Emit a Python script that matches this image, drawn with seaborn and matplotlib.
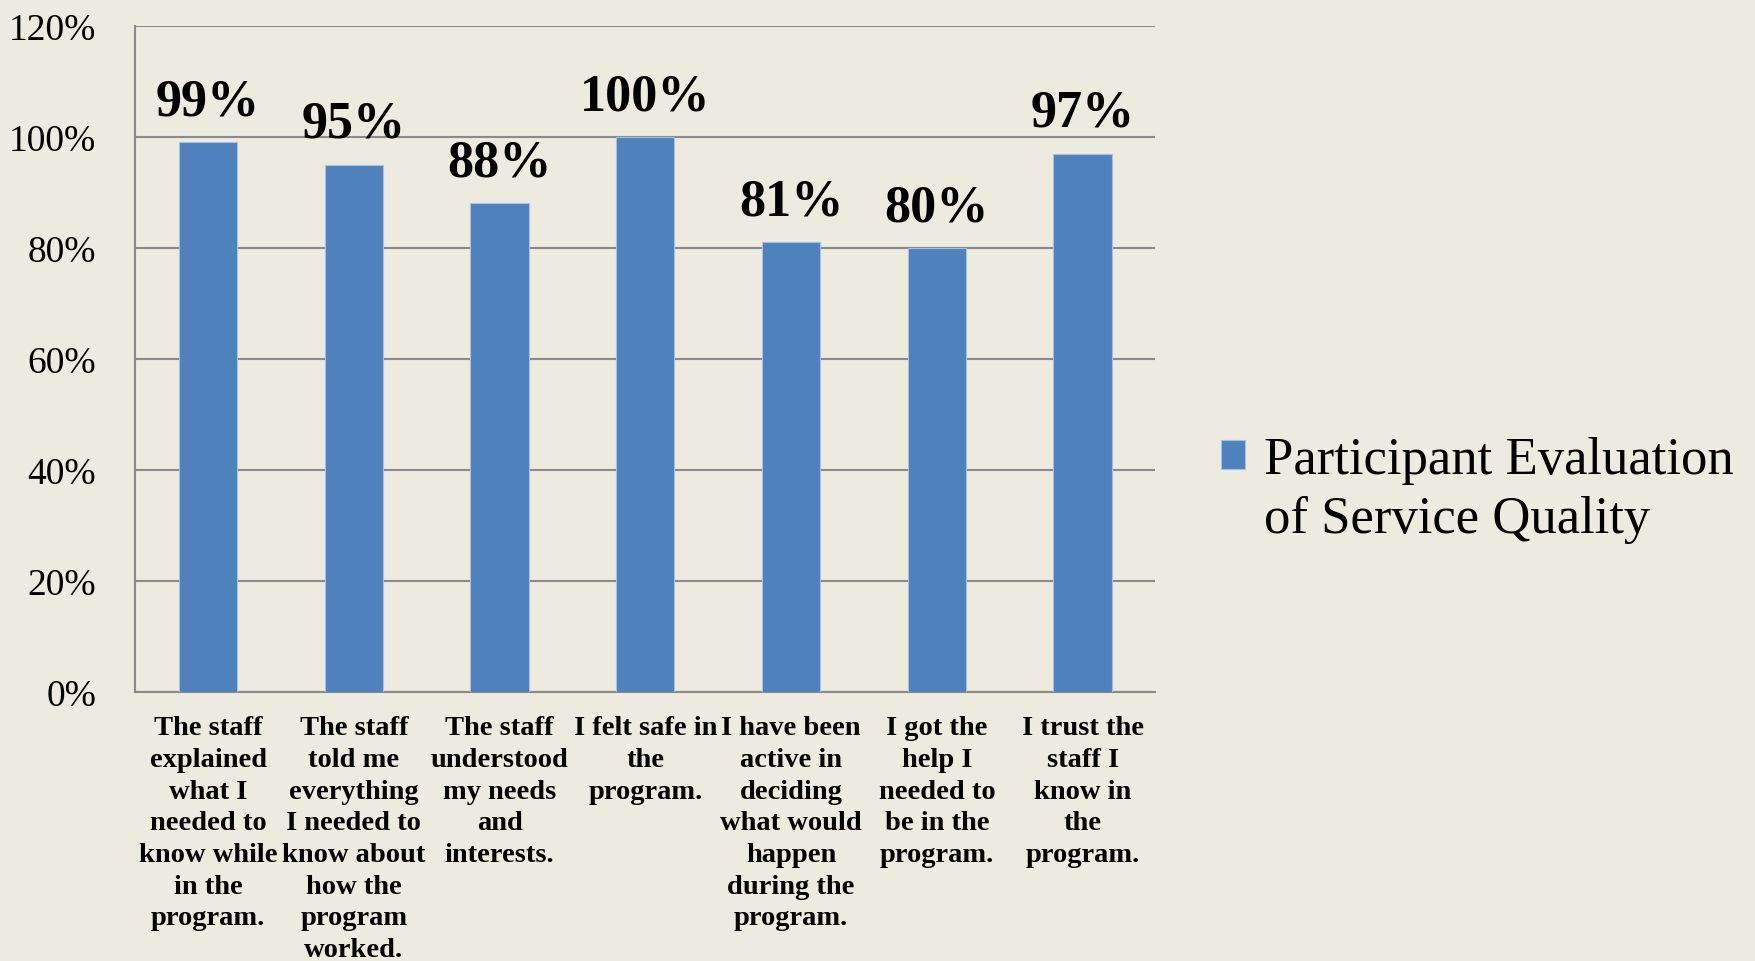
import pandas as pd
import matplotlib.pyplot as plt
import seaborn as sns
from matplotlib.patches import Rectangle
from matplotlib.legend_handler import HandlerPatch

# Chart data
items = [
    "The staff\nexplained\nwhat I\nneeded to\nknow while\nin the\nprogram.",
    "The staff\ntold me\neverything\nI needed to\nknow about\nhow the\nprogram\nworked.",
    "The staff\nunderstood\nmy needs\nand\ninterests.",
    "I felt safe in\nthe\nprogram.",
    "I have been\nactive in\ndeciding\nwhat would\nhappen\nduring the\nprogram.",
    "I got the\nhelp I\nneeded to\nbe in the\nprogram.",
    "I trust the\nstaff I\nknow in\nthe\nprogram.",
]
pct = [99, 95, 88, 100, 81, 80, 97]
series_name = "Participant Evaluation\nof Service Quality"
y_ticks = [0, 20, 40, 60, 80, 100, 120]

df = pd.DataFrame({"item": items, "pct": pct})

bg = "#EDEBE0"
grid_c = "#8A8A8A"
bar_c = "#4F81BD"

sns.set_style("white")
plt.rcParams["font.family"] = ["Liberation Serif", "DejaVu Serif"]
plt.rcParams["text.color"] = "black"
plt.rcParams["xtick.labelcolor"] = "black"
plt.rcParams["ytick.labelcolor"] = "black"

fig = plt.figure(figsize=(17.56, 9.62), dpi=100, facecolor=bg)
ax = fig.add_axes([0.077, 0.280, 0.581, 0.692])
ax.set_facecolor(bg)

sns.barplot(data=df, x="item", y="pct", color=bar_c, width=0.4,
            saturation=1, edgecolor="#A9C0E0", linewidth=0.8,
            label=series_name, ax=ax, zorder=3)
if ax.get_legend() is not None:
    ax.get_legend().remove()

ax.set_ylim(0, 120)
ax.set_xlim(-0.5, len(items) - 0.5)
ax.set_yticks(y_ticks)
ax.set_yticklabels([f"{v}%" for v in y_ticks], fontsize=27)
ax.yaxis.grid(True, color=grid_c, linewidth=1.5, zorder=0)
ax.set_axisbelow(True)

# category labels at centres, tick marks at boundaries
ax.set_xticks(range(len(items)))
ax.set_xticklabels(items, fontsize=20.5, fontweight="bold", linespacing=1.35)
ax.set_xticks([i - 0.5 for i in range(len(items) + 1)], minor=True)
ax.tick_params(axis="x", which="major", length=0, pad=17)
ax.tick_params(axis="x", which="minor", length=9, width=1.5, color=grid_c)
ax.tick_params(axis="y", length=7, width=1.5, color=grid_c, pad=21)

ax.set_xlabel("")
ax.set_ylabel("")
for s in ["top", "right"]:
    ax.spines[s].set_visible(False)
for s in ["left", "bottom"]:
    ax.spines[s].set_color(grid_c)
    ax.spines[s].set_linewidth(1.5)

# value labels
ax.bar_label(ax.containers[0], labels=[f"{v}%" for v in pct],
             padding=12, fontsize=37.5, fontweight="bold")


# legend square sits next to the first line of the label
def first_line_square(legend, orig_handle, xdescent, ydescent, width, height, fontsize):
    return Rectangle((-xdescent, -ydescent + 25), width, height)


bar_handle = ax.containers[0].patches[0]
leg = fig.legend([bar_handle], [series_name], loc="center left",
                 bbox_to_anchor=(0.668, 0.490),
                 frameon=False, fontsize=38, handlelength=0.47, handleheight=0.47,
                 handletextpad=0.35, labelspacing=0.2,
                 handler_map={bar_handle: HandlerPatch(patch_func=first_line_square)})
leg.get_texts()[0].set_linespacing(1.3)

plt.savefig("out.png", dpi=100, facecolor=bg)
